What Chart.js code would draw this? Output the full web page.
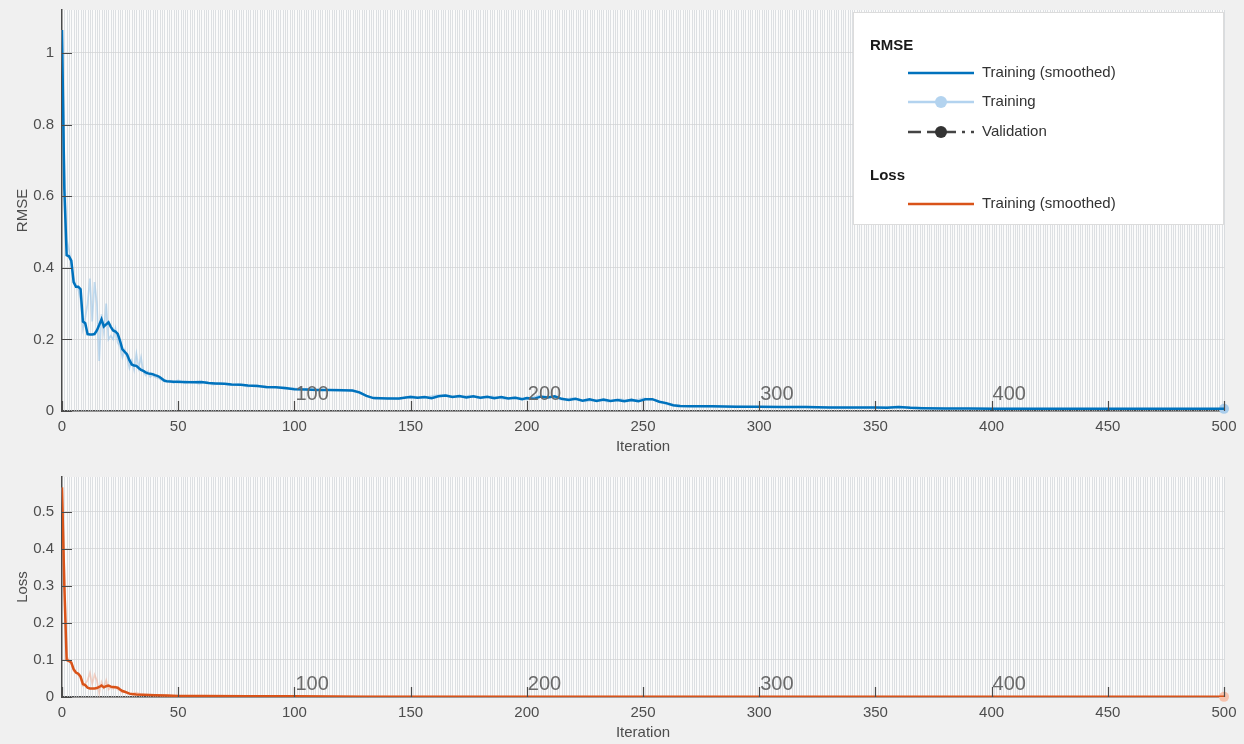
<!DOCTYPE html>
<html>
<head>
<meta charset="utf-8">
<script src="https://cdn.jsdelivr.net/npm/chart.js@4.4.1/dist/chart.umd.min.js"></script>
<style>
  body { margin: 0; background: #f0f0f0; }
  canvas { display: block; }
</style>
</head>
<body>
<canvas id="rmseChart" width="1244" height="458"></canvas>
<canvas id="lossChart" width="1244" height="286"></canvas>
<script>
// iteration ticks and epoch markers
const xTicks = [0, 50, 100, 150, 200, 250, 300, 350, 400, 450, 500];
const epochMarks = [100, 200, 300, 400];
const rmseTicks = [0, 0.2, 0.4, 0.6, 0.8, 1];
const lossTicks = [0, 0.1, 0.2, 0.3, 0.4, 0.5];

// RMSE, training (smoothed)
const rmseSmoothIter = [0,1,2,3,4,5,6,7,8,9,10,11,12,13,14,15,16,17,18,19,20,21,22,23,24,25,26,27,28,29,30,31,32,33,34,35,36,37,38,39,40,41,42,43,44,45,48,52,56,60,63,66,70,73,77,80,84,88,92,96,100,105,110,115,120,125,128,131,134,140,145,148,150,153,156,159,162,165,168,171,174,177,180,183,186,189,192,195,198,200,203,206,209,212,215,218,221,224,227,230,233,236,239,242,245,248,251,254,257,260,263,266,270,280,290,300,310,320,330,340,350,355,360,365,370,380,390,400,420,440,460,480,500];
const rmseSmooth = [1.064,0.62,0.435,0.432,0.42,0.36,0.347,0.347,0.34,0.25,0.245,0.215,0.214,0.214,0.215,0.225,0.24,0.256,0.236,0.242,0.248,0.235,0.225,0.222,0.215,0.195,0.172,0.165,0.158,0.142,0.13,0.127,0.126,0.12,0.115,0.112,0.108,0.105,0.104,0.103,0.1,0.098,0.095,0.09,0.085,0.083,0.082,0.081,0.08,0.081,0.078,0.077,0.076,0.074,0.073,0.071,0.07,0.067,0.066,0.064,0.061,0.06,0.059,0.059,0.058,0.057,0.052,0.042,0.036,0.035,0.035,0.038,0.039,0.037,0.039,0.036,0.041,0.043,0.039,0.042,0.038,0.041,0.037,0.04,0.036,0.039,0.035,0.037,0.033,0.036,0.034,0.04,0.038,0.041,0.034,0.031,0.034,0.029,0.033,0.028,0.032,0.028,0.031,0.027,0.031,0.027,0.033,0.033,0.026,0.022,0.016,0.014,0.013,0.013,0.012,0.012,0.011,0.011,0.01,0.01,0.01,0.009,0.011,0.009,0.008,0.007,0.007,0.006,0.006,0.006,0.006,0.006,0.006];

// RMSE, training (raw)
const rmseRawIter = [0,1,2,3,4,5,6,7,8,9,10,11,12,13,14,15,16,17,18,19,20,21,22,23,24,25,26,27,28,29,30,31,32,33,34,35,36,37,38,39,40,42,44,46,48,50,53,56,59,62,65,68,72,76,80,84,88,92,96,100,110,120,125,130,135,140,145,150,155,160,165,170,175,180,185,190,195,200,205,210,215,220,225,230,235,240,245,250,255,260,265,270,280,290,300,320,340,360,380,400,450,500];
const rmseRaw = [1.064,0.7,0.48,0.45,0.41,0.37,0.35,0.34,0.31,0.23,0.26,0.3,0.37,0.25,0.36,0.3,0.14,0.27,0.22,0.3,0.2,0.21,0.2,0.23,0.19,0.18,0.15,0.17,0.15,0.12,0.14,0.115,0.16,0.12,0.15,0.11,0.1,0.11,0.095,0.1,0.095,0.09,0.082,0.085,0.078,0.086,0.077,0.083,0.076,0.082,0.074,0.078,0.072,0.075,0.068,0.072,0.064,0.067,0.061,0.063,0.058,0.06,0.056,0.045,0.034,0.037,0.033,0.042,0.036,0.043,0.045,0.038,0.043,0.035,0.041,0.034,0.039,0.032,0.043,0.039,0.032,0.036,0.027,0.031,0.026,0.033,0.028,0.035,0.031,0.019,0.012,0.014,0.012,0.013,0.011,0.012,0.009,0.012,0.006,0.007,0.005,0.006];

// Loss, training (smoothed)
const lossSmoothIter = [0,1,2,3,4,5,6,7,8,9,10,11,12,13,14,15,16,17,18,19,20,21,22,23,24,25,26,27,28,29,30,32,35,40,45,50,60,80,100,130,200,300,400,500];
const lossSmooth = [0.565,0.3,0.1,0.097,0.093,0.075,0.066,0.063,0.055,0.035,0.032,0.025,0.023,0.023,0.023,0.024,0.027,0.031,0.026,0.029,0.031,0.028,0.027,0.026,0.025,0.02,0.016,0.014,0.012,0.009,0.008,0.007,0.006,0.005,0.004,0.003,0.003,0.002,0.002,0.001,0.001,0.0008,0.0005,0.0004];

// Loss, training (raw)
const lossRawIter = [0,1,2,3,4,5,6,7,8,9,10,11,12,13,14,15,16,17,18,19,20,21,22,23,24,25,26,27,28,30,32,34,36,40,50,100,200,500];
const lossRaw = [0.565,0.35,0.11,0.1,0.09,0.07,0.065,0.06,0.05,0.03,0.035,0.045,0.065,0.035,0.06,0.045,0.01,0.04,0.025,0.045,0.02,0.025,0.022,0.028,0.02,0.018,0.012,0.015,0.01,0.009,0.012,0.007,0.005,0.005,0.003,0.002,0.001,0.0004];

const pts = (xs, ys) => xs.map((x, i) => ({x: x, y: ys[i]}));
const FONT = '"Liberation Sans", Arial, sans-serif';

// white plot area + one faint line per iteration
const plotBackground = {
  id: 'plotBackground',
  beforeDraw(chart) {
    const {ctx, chartArea: a} = chart;
    ctx.save();
    ctx.fillStyle = '#fbfbfb';
    ctx.fillRect(a.left, a.top, a.right - a.left, a.bottom - a.top);
    ctx.restore();
  },
  beforeDatasetsDraw(chart) {
    const {ctx, chartArea: a, scales: {x}} = chart;
    ctx.save();
    ctx.strokeStyle = 'rgba(205,209,214,0.65)';
    ctx.lineWidth = 1;
    ctx.beginPath();
    for (let i = 1; i <= 500; i++) {
      const px = Math.round(x.getPixelForValue(i)) + 0.5;
      ctx.moveTo(px, a.top);
      ctx.lineTo(px, a.bottom);
    }
    ctx.stroke();
    ctx.restore();
  },
  afterDatasetsDraw(chart, args, opts) {
    const {ctx, chartArea: a, scales: {x, y}} = chart;
    ctx.save();
    // inward tick marks like matlab
    ctx.strokeStyle = '#4a4a4a';
    ctx.lineWidth = 1.2;
    ctx.beginPath();
    xTicks.forEach(v => {
      const px = Math.round(x.getPixelForValue(v)) + 0.5;
      ctx.moveTo(px, a.bottom);
      ctx.lineTo(px, a.bottom - 10);
    });
    y.ticks.forEach(t => {
      const py = Math.round(y.getPixelForValue(t.value)) + 0.5;
      ctx.moveTo(a.left, py);
      ctx.lineTo(a.left + 10, py);
    });
    ctx.stroke();
    // epoch labels
    ctx.fillStyle = '#6a6a6a';
    ctx.font = '20px ' + FONT;
    ctx.textBaseline = 'alphabetic';
    epochMarks.forEach(v => {
      ctx.fillText(String(v), x.getPixelForValue(v) + 1, a.bottom - opts.labelGap);
    });
    ctx.restore();
  }
};

// legend box with section headings
const sectionLegend = {
  id: 'sectionLegend',
  afterDraw(chart, args, opts) {
    if (!opts.show) return;
    const ctx = chart.ctx;
    ctx.save();
    ctx.fillStyle = '#ffffff';
    ctx.fillRect(853, 12, 371, 213);
    ctx.strokeStyle = '#dcdcdc';
    ctx.lineWidth = 1;
    ctx.strokeRect(853.5, 12.5, 370, 212);
    ctx.fillStyle = '#1a1a1a';
    ctx.font = 'bold 15px ' + FONT;
    ctx.textBaseline = 'alphabetic';
    ctx.fillText('RMSE', 870, 50);
    ctx.fillText('Loss', 870, 180);
    ctx.font = '15px ' + FONT;
    ctx.fillStyle = '#333333';
    ctx.textBaseline = 'middle';
    const x0 = 908, x1 = 974, cx = 941;
    // smoothed RMSE
    ctx.strokeStyle = '#0072BD';
    ctx.lineWidth = 2.5;
    ctx.beginPath(); ctx.moveTo(x0, 73); ctx.lineTo(x1, 73); ctx.stroke();
    ctx.fillText('Training (smoothed)', 982, 73);
    // raw RMSE
    ctx.strokeStyle = '#b3d3ef';
    ctx.lineWidth = 2.5;
    ctx.beginPath(); ctx.moveTo(x0, 102); ctx.lineTo(x1, 102); ctx.stroke();
    ctx.fillStyle = '#b3d3ef';
    ctx.beginPath(); ctx.arc(cx, 102, 6, 0, Math.PI * 2); ctx.fill();
    ctx.fillStyle = '#333333';
    ctx.fillText('Training', 982, 102);
    // validation
    ctx.strokeStyle = '#444444';
    ctx.lineWidth = 2.5;
    ctx.setLineDash([13, 6, 10, 6]);
    ctx.beginPath(); ctx.moveTo(x0, 132); ctx.lineTo(965, 132); ctx.stroke();
    ctx.setLineDash([]);
    ctx.beginPath(); ctx.moveTo(971, 132); ctx.lineTo(974, 132); ctx.stroke();
    ctx.fillStyle = '#333333';
    ctx.beginPath(); ctx.arc(cx, 132, 6, 0, Math.PI * 2); ctx.fill();
    ctx.fillText('Validation', 982, 132);
    // smoothed loss
    ctx.strokeStyle = '#D95319';
    ctx.lineWidth = 2.5;
    ctx.beginPath(); ctx.moveTo(x0, 204); ctx.lineTo(x1, 204); ctx.stroke();
    ctx.fillText('Training (smoothed)', 982, 204);
    ctx.restore();
  }
};

function makeOptions(yTicks, yMax, yTitle, labelGap, showLegend, topPad) {
  return {
    responsive: false,
    animation: false,
    layout: {padding: {left: 0, right: 20, top: topPad, bottom: 0}},
    plugins: {
      legend: {display: false},
      tooltip: {enabled: false},
      plotBackground: {labelGap: labelGap},
      sectionLegend: {show: showLegend}
    },
    elements: {point: {radius: 0}, line: {tension: 0}},
    scales: {
      x: {
        type: 'linear',
        min: 0,
        max: 500,
        afterBuildTicks: s => { s.ticks = xTicks.map(v => ({value: v})); },
        afterFit: s => { s.height = 47; s.paddingLeft = 0; s.paddingRight = 0; },
        grid: {color: 'transparent', drawTicks: false},
        border: {display: true, color: '#4a4a4a', width: 1.5},
        ticks: {color: '#4d4d4d', font: {family: FONT, size: 15}, padding: 7, maxRotation: 0},
        title: {display: true, text: 'Iteration', color: '#4d4d4d', font: {family: FONT, size: 15}, padding: {top: 3, bottom: 2}}
      },
      y: {
        type: 'linear',
        min: 0,
        max: yMax,
        afterBuildTicks: s => { s.ticks = yTicks.map(v => ({value: v})); },
        afterFit: s => { s.width = 62; s.paddingTop = 0; s.paddingBottom = 0; },
        grid: {color: '#dedede', drawTicks: false},
        border: {display: true, color: '#4a4a4a', width: 1.5},
        ticks: {color: '#4d4d4d', font: {family: FONT, size: 15}, padding: 8, callback: v => String(v)},
        title: {display: true, text: yTitle, color: '#4d4d4d', font: {family: FONT, size: 15}, padding: {top: 14, bottom: 0}}
      }
    }
  };
}

new Chart(document.getElementById('rmseChart'), {
  type: 'line',
  data: {
    datasets: [
      {label: 'Training (smoothed)', data: pts(rmseSmoothIter, rmseSmooth), borderColor: '#0072BD', borderWidth: 2.5},
      {label: 'Training', data: pts(rmseRawIter, rmseRaw), borderColor: 'rgba(140,190,230,0.5)', borderWidth: 1.7,
        clip: false,
        pointRadius: ctx => ctx.dataIndex === rmseRaw.length - 1 ? 5 : 0,
        pointBackgroundColor: '#a9cdec', pointBorderWidth: 0}
    ]
  },
  options: makeOptions(rmseTicks, 1.12, 'RMSE', 11, true, 10),
  plugins: [plotBackground, sectionLegend]
});

new Chart(document.getElementById('lossChart'), {
  type: 'line',
  data: {
    datasets: [
      {label: 'Training (smoothed)', data: pts(lossSmoothIter, lossSmooth), borderColor: '#D95319', borderWidth: 2.5},
      {label: 'Training', data: pts(lossRawIter, lossRaw), borderColor: 'rgba(240,170,145,0.5)', borderWidth: 1.7,
        clip: false,
        pointRadius: ctx => ctx.dataIndex === lossRaw.length - 1 ? 5 : 0,
        pointBackgroundColor: '#f6c2ad', pointBorderWidth: 0}
    ]
  },
  options: makeOptions(lossTicks, 0.593, 'Loss', 7, false, 19),
  plugins: [plotBackground, sectionLegend]
});
</script>
</body>
</html>
